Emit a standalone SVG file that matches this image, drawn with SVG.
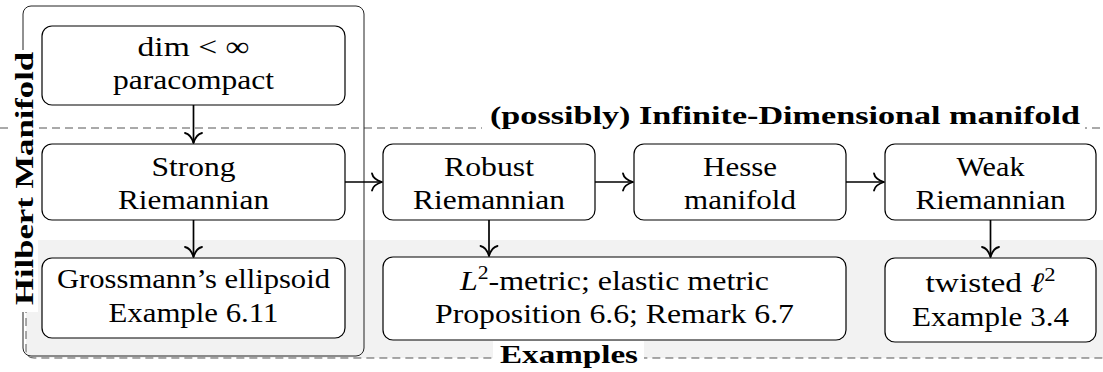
<svg xmlns="http://www.w3.org/2000/svg" width="1103" height="372" viewBox="0 0 1103 372">
<style>
text{font-family:'Liberation Serif',serif}
.t{font-size:28px;font-weight:normal;fill:#000;text-anchor:middle}
.b{font-weight:bold;font-size:26px;fill:#000;text-anchor:middle}
.box{fill:#fff;stroke:#000;stroke-width:1.2}
.dash{fill:none;stroke:#555;stroke-width:1;stroke-dasharray:8 5}
.arr{fill:none;stroke:#000;stroke-width:1.7}
.head{fill:none;stroke:#000;stroke-width:1.8;stroke-linecap:round;stroke-linejoin:round}
</style>
<defs>
<path id="tip" class="head" d="M-10,-8.5 C-9,-3.5 -3,-0.9 0,0 C-3,0.9 -9,3.5 -10,8.5"/>
</defs>
<g id="regions">
<path d="M26,240 H1103 V358 H34 Q26,358 26,350 Z" fill="#f2f2f2"/>
<path class="dash" d="M26,240 V350 Q26,358 34,358 H1103"/>
<line class="dash" x1="0" y1="128" x2="1103" y2="128"/>
<rect x="23" y="6" width="341" height="350" rx="8" fill="none" stroke="#222" stroke-width="1"/>
</g>
<g id="labels">
<rect x="10" y="50" width="28" height="262" fill="#fff"/>
<text class="b" font-size="29" transform="translate(33,178.5) rotate(-90)" textLength="253" lengthAdjust="spacingAndGlyphs">Hilbert Manifold</text>
<rect x="482" y="100" width="603" height="36" fill="#fff"/>
<text class="b" x="785" y="124" textLength="590" lengthAdjust="spacingAndGlyphs">(possibly) Infinite-Dimensional manifold</text>
<rect x="493" y="341" width="151" height="31" fill="#fff"/>
<text class="b" x="569" y="363" textLength="138" lengthAdjust="spacingAndGlyphs">Examples</text>
</g>
<g id="n-dim">
<rect class="box" x="42" y="26" width="303" height="79" rx="10"/>
<text class="t" x="193.5" y="55.5" textLength="112" lengthAdjust="spacingAndGlyphs">dim &lt; ∞</text>
<text class="t" x="193.5" y="88.5" textLength="161" lengthAdjust="spacingAndGlyphs">paracompact</text>
</g>
<g id="n-strong">
<rect class="box" x="42" y="144" width="303" height="76" rx="10"/>
<text class="t" x="193.5" y="175.5" textLength="84" lengthAdjust="spacingAndGlyphs">Strong</text>
<text class="t" x="193.5" y="208.5" textLength="151" lengthAdjust="spacingAndGlyphs">Riemannian</text>
</g>
<g id="n-grossmann">
<rect class="box" x="42" y="258" width="303" height="80" rx="10"/>
<text class="t" x="193.5" y="288" textLength="273" lengthAdjust="spacingAndGlyphs">Grossmann’s ellipsoid</text>
<text class="t" x="193.5" y="322" textLength="170" lengthAdjust="spacingAndGlyphs">Example 6.11</text>
</g>
<g id="n-robust">
<rect class="box" x="383" y="144" width="212" height="76" rx="10"/>
<text class="t" x="489" y="175.5" textLength="90" lengthAdjust="spacingAndGlyphs">Robust</text>
<text class="t" x="489" y="208.5" textLength="152" lengthAdjust="spacingAndGlyphs">Riemannian</text>
</g>
<g id="n-hesse">
<rect class="box" x="634" y="144" width="212" height="76" rx="10"/>
<text class="t" x="740" y="175.5" textLength="74" lengthAdjust="spacingAndGlyphs">Hesse</text>
<text class="t" x="740" y="208.5" textLength="112" lengthAdjust="spacingAndGlyphs">manifold</text>
</g>
<g id="n-weak">
<rect class="box" x="885" y="144" width="211" height="76" rx="10"/>
<text class="t" x="990.5" y="175.5" textLength="68" lengthAdjust="spacingAndGlyphs">Weak</text>
<text class="t" x="990.5" y="208.5" textLength="150" lengthAdjust="spacingAndGlyphs">Riemannian</text>
</g>
<g id="n-l2">
<rect class="box" x="383" y="257" width="463" height="83" rx="10"/>
<text class="t" x="614.5" y="289.5" textLength="309" lengthAdjust="spacingAndGlyphs"><tspan font-style="italic">L</tspan><tspan dy="-11" font-size="19">2</tspan><tspan dy="11">-metric; elastic metric</tspan></text>
<text class="t" x="614.5" y="322.5" textLength="359" lengthAdjust="spacingAndGlyphs">Proposition 6.6; Remark 6.7</text>
</g>
<g id="n-twisted">
<rect class="box" x="885" y="258" width="211" height="84" rx="10"/>
<text class="t" x="990.5" y="292" textLength="130" lengthAdjust="spacingAndGlyphs">twisted <tspan font-style="italic">ℓ</tspan><tspan dy="-11" font-size="19">2</tspan></text>
<text class="t" x="990.5" y="325.5" textLength="157" lengthAdjust="spacingAndGlyphs">Example 3.4</text>
</g>
<g id="connectors">
<line class="arr" x1="193.5" y1="105" x2="193.5" y2="143"/>
<use href="#tip" transform="translate(193.5,143) rotate(90)"/>
<line class="arr" x1="193.5" y1="220" x2="193.5" y2="257"/>
<use href="#tip" transform="translate(193.5,257) rotate(90)"/>
<line class="arr" x1="345" y1="182" x2="382" y2="182"/>
<use href="#tip" transform="translate(382,182)"/>
<line class="arr" x1="595" y1="182" x2="633" y2="182"/>
<use href="#tip" transform="translate(633,182)"/>
<line class="arr" x1="846" y1="182" x2="884" y2="182"/>
<use href="#tip" transform="translate(884,182)"/>
<line class="arr" x1="489" y1="220" x2="489" y2="256"/>
<use href="#tip" transform="translate(489,256) rotate(90)"/>
<line class="arr" x1="990.5" y1="220" x2="990.5" y2="257"/>
<use href="#tip" transform="translate(990.5,257) rotate(90)"/>
</g>
</svg>
